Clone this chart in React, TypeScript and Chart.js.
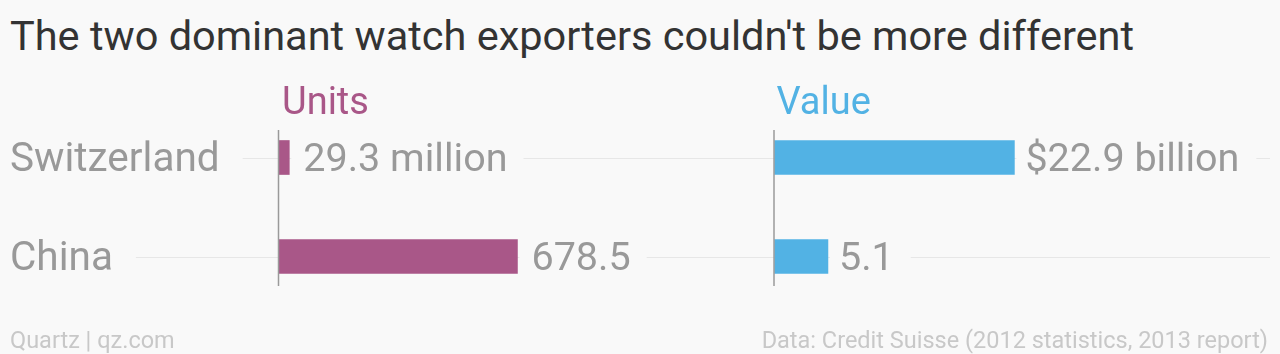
import React, { useEffect, useRef } from "react";
import { Chart, registerables } from "chart.js";

Chart.register(...registerables);

const categories = ["Switzerland", "China"];
const unitsValues = [29.3, 678.5];
const valueValues = [22.9, 5.1];
const unitsLabels = ["29.3 million", "678.5"];
const valueLabels = ["$22.9 billion", "5.1"];
const panelTitles = ["Units", "Value"];

const BG = "#f9f9f9";
const MAGENTA = "#a95788";
const BLUE = "#52b2e4";
const GREY = "#999999";
const FONT = "Roboto, 'Open Sans', sans-serif";

const decorPlugin = {
  id: "decor",
  beforeDatasetsDraw(chart: any) {
    const ctx = chart.ctx;
    const y = chart.scales.y;
    ctx.save();
    ctx.strokeStyle = "#e7e7e7";
    ctx.lineWidth = 1;
    categories.forEach((_, i) => {
      const py = Math.round(y.getPixelForValue(i)) + 0.5;
      ctx.beginPath();
      ctx.moveTo(10, py);
      ctx.lineTo(1270, py);
      ctx.stroke();
    });
    ctx.restore();
  },
  afterDatasetsDraw(chart: any) {
    const ctx = chart.ctx;
    const y = chart.scales.y;
    const xu = chart.scales.xu;
    const xv = chart.scales.xv;
    ctx.save();
    ctx.strokeStyle = "#9a9a9a";
    ctx.lineWidth = 1.5;
    [xu, xv].forEach((s: any) => {
      const px = s.getPixelForValue(0) - 0.5;
      ctx.beginPath();
      ctx.moveTo(px, 130);
      ctx.lineTo(px, 286);
      ctx.stroke();
    });

    const drawLabel = (text: string, x: number, cy: number, color: string, size: number, padL: number, padR: number) => {
      ctx.font = `${size}px ${FONT}`;
      const w = ctx.measureText(text).width;
      ctx.fillStyle = BG;
      ctx.fillRect(x - padL, cy - size / 2, w + padL + padR, size);
      ctx.fillStyle = color;
      ctx.textBaseline = "alphabetic";
      ctx.textAlign = "left";
      ctx.fillText(text, x, cy + size * 0.34);
    };

    categories.forEach((c, i) => {
      const cy = y.getPixelForValue(i);
      drawLabel(c, 10, cy, GREY, 40.5, 2, 23);
      const ue = xu.getPixelForValue(unitsValues[i]);
      drawLabel(unitsLabels[i], ue + 14, cy, GREY, 39.5, 12, 16);
      const ve = xv.getPixelForValue(valueValues[i]);
      drawLabel(valueLabels[i], ve + 11, cy, GREY, 39.5, 9, 17);
    });

    ctx.font = `38px ${FONT}`;
    ctx.textBaseline = "alphabetic";
    ctx.fillStyle = MAGENTA;
    ctx.fillText(panelTitles[0], xu.getPixelForValue(0) + 3, 114);
    ctx.fillStyle = BLUE;
    ctx.fillText(panelTitles[1], xv.getPixelForValue(0) + 2, 114);
    ctx.restore();
  },
};

export default function App() {
  const ref = useRef<HTMLCanvasElement>(null);
  useEffect(() => {
    if (!ref.current) return;
    const chart = new Chart(ref.current, {
      type: "bar",
      data: {
        labels: categories,
        datasets: [
          {
            label: panelTitles[0],
            data: unitsValues,
            xAxisID: "xu",
            backgroundColor: MAGENTA,
            barThickness: 34,
            grouped: false,
          } as any,
          {
            label: panelTitles[1],
            data: valueValues,
            xAxisID: "xv",
            backgroundColor: BLUE,
            barThickness: 34,
            grouped: false,
          } as any,
        ],
      },
      options: {
        indexAxis: "y",
        animation: false,
        responsive: false,
        maintainAspectRatio: false,
        layout: { padding: { left: 279, right: 10, top: 108, bottom: 48 } },
        plugins: { legend: { display: false }, tooltip: { enabled: false }, title: { display: false } },
        scales: {
          y: { type: "category", display: false },
          xu: { type: "linear", position: "bottom", display: false, min: 0, max: 2820 },
          xv: { type: "linear", position: "bottom", display: false, min: -47.3, max: 47.3 },
        },
      },
      plugins: [decorPlugin],
    });
    return () => chart.destroy();
  }, []);

  return (
    <div style={{ position: "fixed", left: 0, top: 0, width: 1280, height: 354, background: BG, overflow: "hidden", fontFamily: FONT }}>
      <div style={{ position: "absolute", left: 10, top: 11, fontSize: 41.5, color: "#333333", whiteSpace: "nowrap", lineHeight: "50px" }}>
        The two dominant watch exporters couldn't be more different
      </div>
      <canvas ref={ref} width={1280} height={354} style={{ position: "absolute", left: 0, top: 0, width: 1280, height: 354 }} />
      <div style={{ position: "absolute", left: 10, top: 326, fontSize: 23.5, color: "#c8c8c8", whiteSpace: "nowrap", lineHeight: "28px" }}>
        Quartz | qz.com
      </div>
      <div style={{ position: "absolute", right: 12, top: 326, fontSize: 23.5, color: "#c8c8c8", whiteSpace: "nowrap", lineHeight: "28px" }}>
        Data: Credit Suisse (2012 statistics, 2013 report)
      </div>
    </div>
  );
}
